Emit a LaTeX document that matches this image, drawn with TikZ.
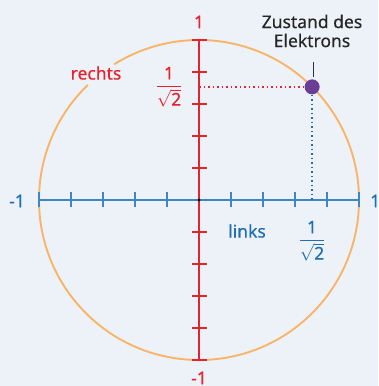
\documentclass[tikz,border=0pt]{standalone}
\usepackage{amsmath}
\usepackage{fontspec}
\setmainfont{Noto Sans}
\newfontfamily\lblfont{Noto Sans}[FakeBold=0.35]
\definecolor{bg}{HTML}{EDF2F9}
\definecolor{cred}{HTML}{E6222C}
\definecolor{cblue}{HTML}{1E6EB5}
\definecolor{axblue}{HTML}{3F86C4}
\definecolor{corange}{HTML}{F8B469}
\definecolor{cpurple}{HTML}{6A3E96}
\newcommand{\isq}{$\displaystyle\frac{\text{1}}{\sqrt{\text{2}}}$}
\tikzset{
  lbl/.style={font=\lblfont\fontsize{17.5}{20}\selectfont, inner sep=1pt},
  redax/.style={cred, line width=1.3pt},
  blueax/.style={axblue, line width=1.3pt},
  tick/.style={line width=1.1pt},
  dotline/.style={line width=1.6pt, dash pattern=on 1.5pt off 3pt},
}
\begin{document}
\begin{tikzpicture}[x=1pt,y=1pt]
\fill[bg] (0,0) rectangle (378,386);
\useasboundingbox (0,0) rectangle (378,386);
\coordinate (O) at (199,186);
% circle with a gap for the label
\draw[corange, line width=1.9pt] ([shift={(134:160)}]O) arc[start angle=134, end angle=482, radius=160];
% horizontal axis
\coordinate (xl) at (39,186);
\coordinate (xr) at (359,186);
\draw[blueax] (xl) -- (xr);
\foreach \i in {-5,...,-1,1,2,...,5}
  \draw[blueax, tick] ([shift={(\i*32,-7.5)}]O) -- ++(0,15);
% vertical axis
\coordinate (yt) at (199,346);
\coordinate (yb) at (199,26);
\draw[redax] (yb) -- (yt);
\foreach \i in {-5,...,-1,1,2,...,5}
  \draw[redax, tick] ([shift={(-7.5,\i*32)}]O) -- ++(15,0);
\fill[black] (O) circle (1.6);
% state
\node[circle, fill=cpurple, minimum size=15pt, inner sep=0pt] (e) at ([shift={(45:160)}]O) {};
\coordinate (ey) at (O |- e);
\coordinate (ex) at (e |- O);
\draw[cred, dotline] (ey) -- (e.west);
\draw[cblue, dotline] (e.south) -- (ex);
% labels
\node[lbl, align=center, text=black!85] (zl) at (312,355) {Zustand des\\[-1pt]Elektrons};
\coordinate (p1) at (313,324);
\coordinate (p2) at (313,309);
\draw[black!80, line width=1pt] (p1) -- (p2);
\node[lbl, text=cred] (rl) at (96,313) {rechts};
\node[lbl, text=cblue] (ll) at (247,155) {links};
\node[lbl, text=cred] (t1) at (199,364) {1};
\node[lbl, text=cred] (b1) at (199,8) {-1};
\node[lbl, text=cblue] (l1) at (17,185) {-1};
\node[lbl, text=cblue, anchor=west] (r1) at (369,185) {1};
\node[lbl, text=cred] (fr) at (169,299) {\isq};
\node[lbl, text=cblue] (fb) at (312,145) {\isq};
\end{tikzpicture}
\end{document}
